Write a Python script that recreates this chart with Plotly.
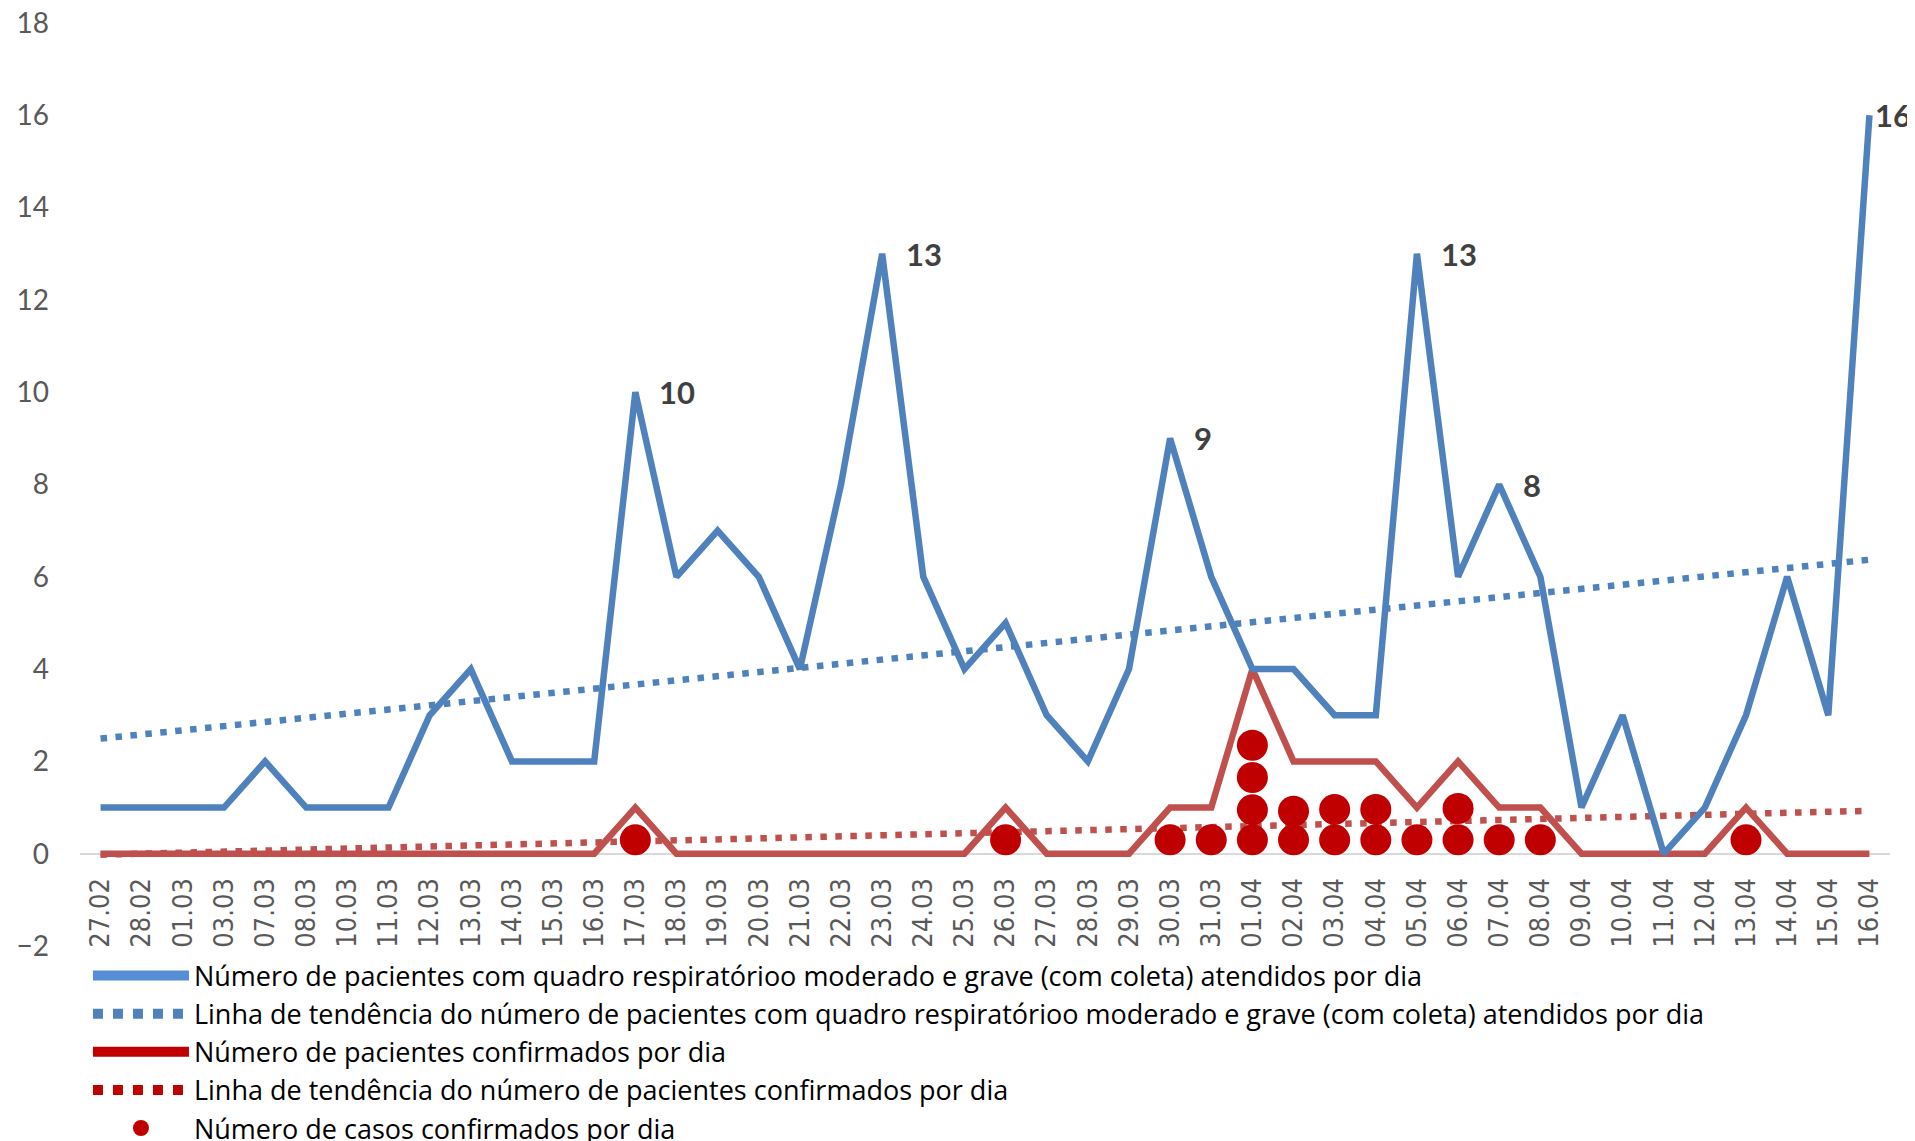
import numpy as np
import plotly.graph_objects as go

dates = ["27.02", "28.02", "01.03", "03.03", "07.03", "08.03", "10.03", "11.03", "12.03", "13.03",
         "14.03", "15.03", "16.03", "17.03", "18.03", "19.03", "20.03", "21.03", "22.03", "23.03",
         "24.03", "25.03", "26.03", "27.03", "28.03", "29.03", "30.03", "31.03", "01.04", "02.04",
         "03.04", "04.04", "05.04", "06.04", "07.04", "08.04", "09.04", "10.04", "11.04", "12.04",
         "13.04", "14.04", "15.04", "16.04"]

atendidos = [1, 1, 1, 1, 2, 1, 1, 1, 3, 4,
             2, 2, 2, 10, 6, 7, 6, 4, 8, 13,
             6, 4, 5, 3, 2, 4, 9, 6, 4, 4,
             3, 3, 13, 6, 8, 6, 1, 3, 0, 1,
             3, 6, 3, 16]

confirmados = [0, 0, 0, 0, 0, 0, 0, 0, 0, 0,
               0, 0, 0, 1, 0, 0, 0, 0, 0, 0,
               0, 0, 1, 0, 0, 0, 1, 1, 4, 2,
               2, 2, 1, 2, 1, 1, 0, 0, 0, 0,
               1, 0, 0, 0]

dot_dates = ["17.03", "26.03", "30.03", "31.03",
             "01.04", "01.04", "01.04", "01.04",
             "02.04", "02.04", "03.04", "03.04", "04.04", "04.04",
             "05.04", "06.04", "06.04", "07.04", "08.04", "13.04"]
dot_values = [0.3, 0.3, 0.3, 0.3,
              0.3, 0.95, 1.65, 2.35,
              0.3, 0.92, 0.3, 0.96, 0.3, 0.96,
              0.3, 0.3, 0.98, 0.3, 0.3, 0.3]

label_dates = ["17.03", "23.03", "30.03", "05.04", "07.04", "16.04"]

y_ticks = list(range(-2, 19, 2))

legend_names = [
    "Número de pacientes com quadro respiratórioo moderado e grave (com coleta) atendidos por dia",
    "Linha de tendência do número de pacientes com quadro respiratórioo moderado e grave (com coleta) atendidos por dia",
    "Número de pacientes confirmados por dia",
    "Linha de tendência do número de pacientes confirmados por dia",
    "Número de casos confirmados por dia",
]

# linear trend lines (least squares over the category index, like Excel)
idx = np.arange(len(dates))
b1, a1 = np.polyfit(idx, atendidos, 1)
b2, a2 = np.polyfit(idx, confirmados, 1)
trend_atend = a1 + b1 * idx
trend_conf = a2 + b2 * idx

BLUE = "#4F81BD"
RED = "#C0504D"
DARKRED = "#C00000"
DOT = "6.5px,8.5px"
TXT = "Open Sans, Lato, Carlito, Calibri, sans-serif"

fig = go.Figure()

fig.add_trace(go.Scatter(x=dates, y=trend_conf, mode="lines",
                         line=dict(color=RED, width=6.5, dash=DOT), showlegend=False, hoverinfo="skip"))
fig.add_trace(go.Scatter(x=dates, y=confirmados, mode="lines",
                         line=dict(color=RED, width=6.5), showlegend=False))
fig.add_trace(go.Scatter(x=dot_dates, y=dot_values, mode="markers",
                         marker=dict(color=DARKRED, size=31), showlegend=False))
fig.add_trace(go.Scatter(x=dates, y=trend_atend, mode="lines",
                         line=dict(color=BLUE, width=6.5, dash=DOT), showlegend=False, hoverinfo="skip"))
fig.add_trace(go.Scatter(x=dates, y=atendidos, mode="lines",
                         line=dict(color=BLUE, width=6.5), showlegend=False))

# legend entries (styled like the original legend)
leg_styles = [
    dict(mode="lines", line=dict(color="#558ED5", width=12)),
    dict(mode="lines", line=dict(color=BLUE, width=10, dash="10px,10px")),
    dict(mode="lines", line=dict(color=DARKRED, width=12)),
    dict(mode="lines", line=dict(color=DARKRED, width=10, dash="10px,10px")),
    dict(mode="markers", marker=dict(color=DARKRED, size=31)),
]
for name, st in zip(legend_names, leg_styles):
    fig.add_trace(go.Scatter(x=[None], y=[None], name=name, showlegend=True, **st))

for d in label_dates:
    i = dates.index(d)
    fig.add_annotation(x=i, y=atendidos[i], xref="x", yref="y",
                       text=f"<b>{atendidos[i]}</b>", showarrow=False,
                       xanchor="left", yanchor="middle", xshift=(4 if i == len(dates) - 1 else 22),
                       font=dict(family="Lato, Carlito, Calibri, sans-serif", size=31, color="#404040"))

# the page body has an 8px default margin; figure is sized to fill the rest of the window
fig.update_layout(
    width=1907, height=1133,
    margin=dict(l=72, r=25, t=15, b=195, autoexpand=False),
    paper_bgcolor="white", plot_bgcolor="white",
    font=dict(family=TXT, color="#000000"),
    showlegend=True,
    legend=dict(orientation="v", x=0.0044, xanchor="left", y=-0.006, yanchor="top",
                font=dict(family=TXT, size=27, color="#000000"),
                itemwidth=96, itemsizing="trace", bgcolor="rgba(0,0,0,0)", tracegroupgap=0),
    xaxis=dict(type="category", categoryorder="array", categoryarray=dates,
               range=[-0.5, len(dates) - 0.5], anchor="free",
               position=(0 - y_ticks[0]) / (y_ticks[-1] - y_ticks[0]),
               showgrid=False, zeroline=False, showline=False,
               tickangle=-90, ticks="", ticklabelstandoff=18,
               tickfont=dict(family="DejaVu Sans Condensed, DejaVu Sans, sans-serif", size=27, color="#595959")),
    yaxis=dict(range=[y_ticks[0], y_ticks[-1]], tickvals=y_ticks, showgrid=False,
               zeroline=True, zerolinecolor="#D9D9D9", zerolinewidth=2,
               showline=False, ticks="", ticklabelstandoff=30, ticklabeloverflow="allow",
               tickfont=dict(family="Lato, Carlito, Calibri, sans-serif", size=28, color="#595959")),
)

fig.write_html("out.html")
